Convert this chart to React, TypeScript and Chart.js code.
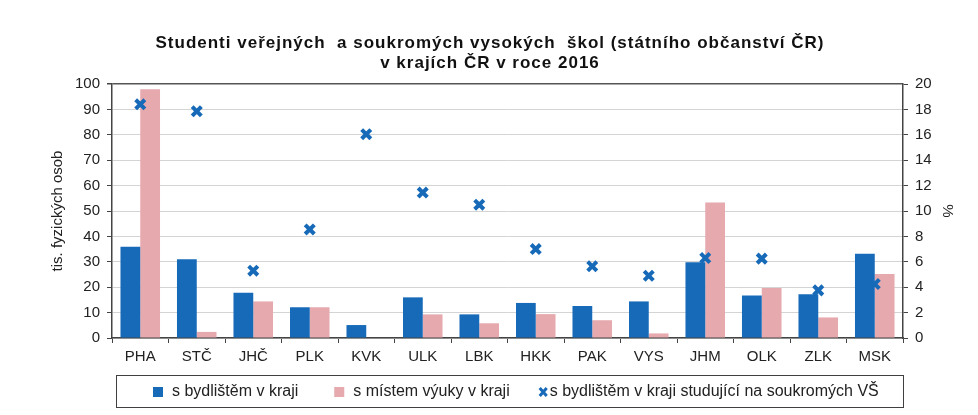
import React, { useEffect, useRef } from "react";
import { Chart, registerables } from "chart.js";

Chart.register(...registerables);

const categories = ["PHA", "STČ", "JHČ", "PLK", "KVK", "ULK", "LBK", "HKK", "PAK", "VYS", "JHM", "OLK", "ZLK", "MSK"];
const residence = [35.9, 31.0, 17.8, 12.1, 5.1, 16.0, 9.3, 13.8, 12.6, 14.4, 29.8, 16.7, 17.2, 33.2];
const studyPlace = [97.9, 2.4, 14.4, 12.1, 0.2, 9.3, 5.8, 9.4, 7.0, 1.8, 53.3, 19.7, 8.1, 25.2];
const privateShare = [18.4, 17.85, 5.3, 8.55, 16.05, 11.45, 10.5, 7.0, 5.65, 4.9, 6.3, 6.25, 3.75, 4.25];
const leftTicks = [0, 10, 20, 30, 40, 50, 60, 70, 80, 90, 100];
const rightTicks = [0, 2, 4, 6, 8, 10, 12, 14, 16, 18, 20];
const titleLines = ["Studenti veřejných  a soukromých vysokých  škol (státního občanství ČR)", "v krajích ČR v roce 2016"];
const seriesLabels = ["s bydlištěm v kraji", "s místem výuky v kraji", "s bydlištěm v kraji studující na soukromých VŠ"];

const BLUE = "#176ab8";
const PINK = "#e6a9ae";
const FONT = "'Liberation Sans', Arial, sans-serif";

const titlePlugin = {
  id: "spacedTitle",
  afterDraw(chart: any) {
    const ctx = chart.ctx;
    ctx.save();
    ctx.font = "bold 17px " + FONT;
    (ctx as any).letterSpacing = "1px";
    ctx.fillStyle = "#111";
    ctx.textAlign = "center";
    ctx.textBaseline = "middle";
    const cx = chart.width / 2 + 1;
    titleLines.forEach((line, i) => ctx.fillText(line, cx, 43 + i * 20));
    ctx.restore();
  },
};

const boxLegend = {
  id: "boxLegend",
  afterDraw(chart: any) {
    const ctx = chart.ctx;
    const area = chart.chartArea;
    ctx.save();
    ctx.strokeStyle = "#404040";
    ctx.lineWidth = 1;
    ctx.strokeRect(116.5, 375.5, area.right - 116, 32);
    ctx.font = "16px " + FONT;
    ctx.textBaseline = "middle";
    const yMid = 392;
    let x = 153;
    chart.data.datasets.forEach((ds: any, i: number) => {
      if (i < 2) {
        ctx.fillStyle = ds.backgroundColor;
        ctx.fillRect(x, yMid - 5, 10, 10);
        x += 19;
      } else {
        ctx.strokeStyle = ds.borderColor;
        ctx.lineWidth = 3;
        ctx.beginPath();
        ctx.moveTo(x, yMid - 4);
        ctx.lineTo(x + 7, yMid + 4);
        ctx.moveTo(x + 7, yMid - 4);
        ctx.lineTo(x, yMid + 4);
        ctx.stroke();
        x += 10;
      }
      ctx.fillStyle = "#222";
      ctx.textAlign = "left";
      ctx.fillText(ds.label, x, yMid);
      x += ctx.measureText(ds.label).width + (i === 0 ? 36 : 30);
    });
    ctx.restore();
  },
};

export default function App() {
  const ref = useRef<HTMLCanvasElement>(null);
  useEffect(() => {
    document.body.style.margin = "0";
    const chart = new Chart(ref.current!, {
      type: "bar",
      data: {
        labels: categories,
        datasets: [
          { type: "bar", label: seriesLabels[0], data: residence, backgroundColor: BLUE, yAxisID: "y", order: 2 },
          { type: "bar", label: seriesLabels[1], data: studyPlace, backgroundColor: PINK, yAxisID: "y", order: 2 },
          {
            type: "line",
            label: seriesLabels[2],
            data: privateShare,
            yAxisID: "y2",
            showLine: false,
            pointStyle: "crossRot",
            pointRadius: 6.5,
            borderWidth: 4,
            borderColor: BLUE,
            backgroundColor: BLUE,
            order: 1,
          } as any,
        ],
      },
      plugins: [titlePlugin, boxLegend],
      options: {
        animation: false,
        responsive: false,
        maintainAspectRatio: false,
        layout: { padding: { top: 84, left: 0, right: 0, bottom: 45 } },
        datasets: { bar: { barPercentage: 1, categoryPercentage: 0.7 } } as any,
        plugins: {
          legend: { display: false },
          tooltip: { enabled: false },
          title: { display: false },
        },
        scales: {
          x: {
            grid: { offset: true, drawOnChartArea: false, drawTicks: true, tickLength: 5, color: "#444" },
            border: { color: "#444", width: 1.5 },
            ticks: { font: { family: FONT, size: 15 }, color: "#222", padding: 5 },
            afterFit: (s: any) => { s.height = 32; },
          },
          y: {
            position: "left",
            min: 0,
            max: 100,
            afterBuildTicks: (s: any) => { s.ticks = leftTicks.map((v) => ({ value: v })); },
            grid: {
              color: (c: any) => (c.tick && c.tick.value === 100 ? "#555" : "#d4d4d4"),
              lineWidth: (c: any) => (c.tick && c.tick.value === 100 ? 1.5 : 1),
              tickColor: "#444",
              tickLength: 5,
            },
            border: { color: "#444", width: 1.5 },
            ticks: { font: { family: FONT, size: 15 }, color: "#222", padding: 7 },
            title: { display: true, text: "tis. fyzických osob", font: { family: FONT, size: 15 }, color: "#222", padding: { top: 49, bottom: 0 } },
            afterFit: (s: any) => { s.width = 112; },
          },
          y2: {
            position: "right",
            min: 0,
            max: 20,
            afterBuildTicks: (s: any) => { s.ticks = rightTicks.map((v) => ({ value: v })); },
            grid: { drawOnChartArea: false, tickColor: "#444", tickLength: 5 },
            border: { color: "#444", width: 1.5 },
            ticks: { font: { family: FONT, size: 15 }, color: "#222", padding: 7 },
            title: { display: true, text: "%", font: { family: FONT, size: 15 }, color: "#222", padding: { top: 22, bottom: 0 } },
            afterFit: (s: any) => { s.width = 75; },
          },
        },
      },
    });
    return () => chart.destroy();
  }, []);
  return (
    <div style={{ width: 978, height: 415, background: "#fff" }}>
      <canvas ref={ref} width={978} height={415} style={{ width: 978, height: 415 }} />
    </div>
  );
}
